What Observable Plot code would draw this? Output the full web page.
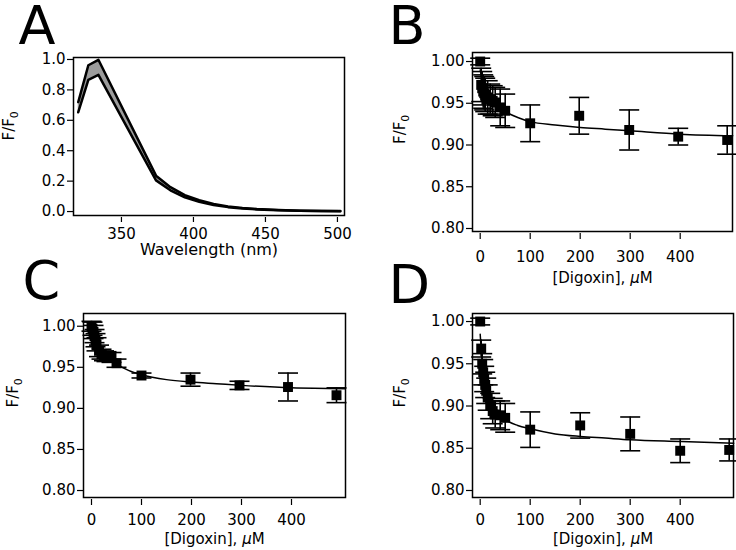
<!DOCTYPE html>
<html>
<head>
<meta charset="utf-8">
<script src="https://cdn.jsdelivr.net/npm/d3@7"></script>
<script src="https://cdn.jsdelivr.net/npm/@observablehq/plot@0.6"></script>
<style>
  body { margin: 0; background: #fff; }
  #fig { position: relative; width: 736px; height: 550px; overflow: hidden; background: #fff; }
  #fig > svg { position: absolute; }
</style>
</head>
<body>
<div id="fig"></div>
<script>
// ---------- Panel A: emission spectra (first and last of the titration) ----------
const wavelength     = [320, 327, 334, 374, 384, 394, 404, 414, 424, 434, 444, 459, 474, 489, 502];
const spectrumTop    = [0.72, 0.962, 0.998, 0.236, 0.160, 0.108, 0.074, 0.050, 0.034, 0.024, 0.017, 0.010, 0.006, 0.004, 0.003];
const spectrumBottom = [0.653, 0.866, 0.899, 0.205, 0.140, 0.094, 0.064, 0.043, 0.029, 0.020, 0.014, 0.008, 0.005, 0.003, 0.002];

// ---------- Panel B ----------
const concB = [0, 2, 4, 6, 8, 10, 15, 20, 25, 30, 40, 50, 100, 198, 298, 396, 494];
const fB    = [1.000, 0.972, 0.968, 0.964, 0.962, 0.960, 0.957, 0.955, 0.953, 0.951, 0.945, 0.941, 0.926, 0.935, 0.918, 0.910, 0.906];
const errB  = [0.004, 0.020, 0.020, 0.020, 0.020, 0.020, 0.020, 0.018, 0.018, 0.018, 0.022, 0.020, 0.022, 0.022, 0.024, 0.010, 0.017];
const fitConcB = [0, 5, 10, 20, 30, 40, 50, 75, 100, 150, 200, 250, 300, 400, 505];
const fitB     = [0.990, 0.975, 0.966, 0.956, 0.949, 0.944, 0.940, 0.933, 0.928, 0.924, 0.921, 0.919, 0.917, 0.913, 0.911];

// ---------- Panel C ----------
const concC = [0, 2, 4, 6, 8, 10, 15, 20, 25, 30, 40, 50, 100, 198, 296, 393, 490];
const fC    = [1.000, 0.997, 0.993, 0.988, 0.983, 0.978, 0.970, 0.966, 0.964, 0.963, 0.962, 0.955, 0.940, 0.935, 0.928, 0.926, 0.916];
const errC  = [0.006, 0.008, 0.008, 0.008, 0.008, 0.008, 0.007, 0.006, 0.006, 0.006, 0.006, 0.005, 0.003, 0.008, 0.005, 0.017, 0.009];
const fitConcC = [0, 5, 10, 20, 30, 40, 50, 75, 100, 150, 200, 250, 300, 400, 508];
const fitC     = [0.995, 0.985, 0.977, 0.968, 0.962, 0.958, 0.954, 0.946, 0.941, 0.935, 0.932, 0.930, 0.928, 0.925, 0.924];

// ---------- Panel D ----------
const concD = [0, 2, 4, 6, 8, 10, 12, 15, 20, 25, 30, 40, 50, 100, 200, 300, 400, 498];
const fD    = [1.000, 0.968, 0.950, 0.940, 0.932, 0.925, 0.918, 0.910, 0.900, 0.894, 0.890, 0.889, 0.886, 0.872, 0.877, 0.867, 0.847, 0.848];
const errD  = [0.004, 0.010, 0.012, 0.015, 0.015, 0.015, 0.015, 0.015, 0.015, 0.015, 0.016, 0.017, 0.017, 0.021, 0.015, 0.020, 0.014, 0.013];
const fitConcD = [0, 5, 10, 15, 20, 30, 40, 50, 75, 100, 150, 200, 250, 300, 400, 507];
const fitD     = [0.985, 0.945, 0.925, 0.912, 0.904, 0.895, 0.889, 0.884, 0.877, 0.873, 0.867, 0.864, 0.862, 0.860, 0.858, 0.856];

// ---------- ticks & labels ----------
const xTicksA = [350, 400, 450, 500];
const yTicksA = [0, 0.2, 0.4, 0.6, 0.8, 1.0];
const xTicksConc = [0, 100, 200, 300, 400];
const yTicksF = [0.80, 0.85, 0.90, 0.95, 1.00];
const yLabel = "F/F0";
const xLabelA = "Wavelength (nm)";
const xLabelConc = "[Digoxin], μM";
const panelLetters = ["A", "B", "C", "D"];

const FONT = "DejaVu Sans";
const fig = document.getElementById("fig");
const baseStyle = {fontFamily: FONT, fontSize: "15px", background: "transparent", color: "black", overflow: "visible"};

const capSymbol = {
  draw(ctx, size) {
    const w = Math.sqrt(size / Math.PI);
    ctx.moveTo(-w, 0);
    ctx.lineTo(w, 0);
  }
};

function place(svg, left, top) {
  svg.style.left = left + "px";
  svg.style.top = top + "px";
  // subscript in F/F0
  d3.select(svg).selectAll("text").filter(function () { return this.textContent === yLabel; })
    .each(function () {
      this.textContent = "F/F";
      d3.select(this).append("tspan").attr("dy", "0.35em").attr("font-size", "0.72em").text("0");
    });
  // italic mu
  d3.select(svg).selectAll("text").filter(function () { return this.textContent === xLabelConc; })
    .each(function () {
      this.textContent = "[Digoxin], ";
      d3.select(this).append("tspan").attr("font-style", "italic").text("μ");
      d3.select(this).append("tspan").text("M");
    });
  fig.appendChild(svg);
}

// ---------- Panel A ----------
const spec = wavelength.map((w, i) => ({w, top: spectrumTop[i], bot: spectrumBottom[i]}));
const svgA = Plot.plot({
  width: 368, height: 275,
  marginLeft: 73, marginRight: 24, marginTop: 57, marginBottom: 60,
  style: baseStyle,
  x: {domain: [316.7, 504.9], label: null},
  y: {domain: [-0.026, 1.013], label: null},
  marks: [
    Plot.areaY(spec, {x: "w", y1: "bot", y2: "top", fill: "#9c9c9c"}),
    Plot.line(spec, {x: "w", y: "top", stroke: "black", strokeWidth: 2.5}),
    Plot.line(spec, {x: "w", y: "bot", stroke: "black", strokeWidth: 2.5}),
    Plot.frame({stroke: "black", strokeWidth: 1.5}),
    Plot.axisX({ticks: xTicksA, tickSize: 5, dy: 2, tickPadding: 6, label: null, stroke: "black", strokeWidth: 1.2}),
    Plot.axisY({ticks: yTicksA, tickFormat: ".1f", tickSize: 6, tickPadding: 2, label: null, stroke: "black", strokeWidth: 1.2}),
    Plot.text([yLabel], {text: d => d, frameAnchor: "left", rotate: -90, dx: -64, dy: 4}),
    Plot.text([xLabelA], {text: d => d, frameAnchor: "bottom", lineAnchor: "bottom", dy: 39, fontSize: 16}),
    Plot.text([panelLetters[0]], {text: d => d, frameAnchor: "top-left", textAnchor: "start", lineAnchor: "bottom", dx: -55, dy: -14, fontSize: 54})
  ]
});
place(svgA, 0, 0);

// ---------- Panels B, C, D ----------
function titration(p) {
  const pts = p.conc.map((x, i) => ({x, y: p.f[i], lo: p.f[i] - p.err[i], hi: p.f[i] + p.err[i]}));
  const fit = p.fitConc.map((x, i) => ({x, y: p.fit[i]}));
  const svg = Plot.plot({
    width: 368, height: 275,
    marginLeft: p.m[0], marginRight: p.m[1], marginTop: p.m[2], marginBottom: p.m[3],
    style: baseStyle,
    x: {domain: p.xDomain, label: null},
    y: {domain: p.yDomain, label: null},
    marks: [
      Plot.line(fit, {x: "x", y: "y", curve: "monotone-x", stroke: "black", strokeWidth: 1.5}),
      Plot.ruleX(pts, {x: "x", y1: "lo", y2: "hi", stroke: "black", strokeWidth: 1.6}),
      Plot.dot(pts, {x: "x", y: "lo", symbol: capSymbol, r: 10, stroke: "black", fill: "none", strokeWidth: 1.6}),
      Plot.dot(pts, {x: "x", y: "hi", symbol: capSymbol, r: 10, stroke: "black", fill: "none", strokeWidth: 1.6}),
      Plot.dot(pts, {x: "x", y: "y", symbol: "square", r: 5.6, fill: "black", stroke: "none"}),
      Plot.frame({stroke: "black", strokeWidth: 1.5}),
      Plot.axisX({ticks: xTicksConc, tickSize: 6, dy: 2, tickPadding: p.xPad, label: null, stroke: "black", strokeWidth: 1.2}),
      Plot.axisY({ticks: yTicksF, tickFormat: ".2f", tickSize: 6, tickPadding: 2, label: null, stroke: "black", strokeWidth: 1.2}),
      Plot.text([yLabel], {text: d => d, frameAnchor: "left", rotate: -90, dx: p.yLabDx, dy: 2}),
      Plot.text([xLabelConc], {text: d => d, frameAnchor: "bottom", lineAnchor: "bottom", dy: p.xLabDy}),
      Plot.text([p.letter], {text: d => d, frameAnchor: "top-left", textAnchor: "start", lineAnchor: "bottom", dx: p.letDx, dy: p.letDy, fontSize: 54})
    ]
  });
  place(svg, p.left, p.top);
}

titration({conc: concB, f: fB, err: errB, fitConc: fitConcB, fit: fitB,
  left: 368, top: 0, m: [104, 4, 52, 44],
  xDomain: [-15.4, 504.6], yDomain: [0.7964, 1.0108],
  xPad: 12, yLabDx: -72, xLabDy: 51, letter: panelLetters[1], letDx: -84, letDy: -9});

titration({conc: concC, f: fC, err: errC, fitConc: fitConcC, fit: fitC,
  left: 0, top: 275, m: [83, 23, 38, 53],
  xDomain: [-16, 508], yDomain: [0.7915, 1.0155],
  xPad: 9, yLabDx: -70, xLabDy: 46, letter: panelLetters[2], letDx: -61, letDy: -15});

titration({conc: concD, f: fD, err: errD, fitConc: fitConcD, fit: fitD,
  left: 368, top: 275, m: [104, 3, 38, 53],
  xDomain: [-15.4, 506.6], yDomain: [0.7917, 1.0095],
  xPad: 9, yLabDx: -72, xLabDy: 46, letter: panelLetters[3], letDx: -84, letDy: -11});
</script>
</body>
</html>
